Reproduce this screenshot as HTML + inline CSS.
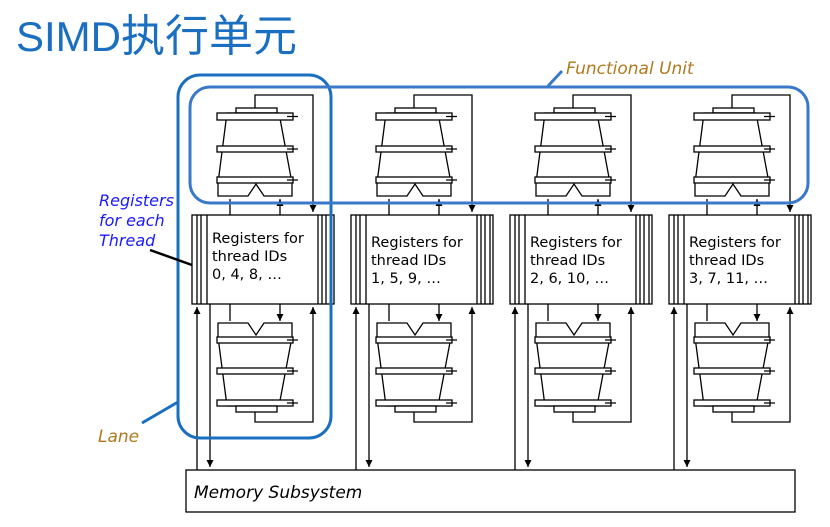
<!DOCTYPE html>
<html><head><meta charset="utf-8"><style>
html,body{margin:0;padding:0;background:#fff;width:830px;height:527px;overflow:hidden}
svg{display:block}
text{font-family:"DejaVu Sans","Liberation Sans",sans-serif}
</style></head><body>
<svg width="830" height="527" viewBox="0 0 830 527" xmlns="http://www.w3.org/2000/svg">
<defs>
<marker id="a" markerWidth="8" markerHeight="8" refX="7" refY="4" orient="auto" markerUnits="userSpaceOnUse"><path d="M0,0.5 L7,4 L0,7.5z" fill="#000"/></marker>
<g id="lane" stroke="#000" stroke-width="1.3" fill="#fff">
  <path d="M255,108 V95 H313 V212" fill="none" marker-end="url(#a)"/>
  <rect x="236" y="108" width="41" height="5"/>
  <path d="M227,113 L279,113 L292,183 L292,196 L264,196 L256,184 L248,196 L218,196 L218,183 Z"/>
  <rect x="217" y="113" width="76" height="7"/>
  <rect x="217" y="146" width="76" height="6"/>
  <rect x="217" y="177" width="76" height="6"/>
  <path d="M287,116.5 H298 M287,149 H298 M287,180 H298" fill="none"/>
  <path d="M230,215 V199 M280,215 V199" fill="none" marker-end="url(#a)"/>
  <rect x="192" y="215" width="142" height="89"/>
  <path d="M197,215V304 M201,215V304 M207,215V304 M318,215V304 M322,215V304 M326,215V304 M331,215V304" fill="none"/>
  <path d="M230,304 V321 M280,304 V321" fill="none" marker-end="url(#a)"/>
  <path d="M218,323 L248,323 L256,335 L264,323 L292,323 L292,337 L279,406 L227,406 L218,337 Z"/>
  <rect x="217" y="337" width="76" height="6"/>
  <rect x="217" y="368" width="76" height="6"/>
  <rect x="217" y="400" width="76" height="6"/>
  <rect x="236" y="406" width="41" height="6"/>
  <path d="M287,340 H298 M287,371 H298 M287,403 H298" fill="none"/>
  <path d="M255,412 V422 H313 V307" fill="none" marker-end="url(#a)"/>
  <path d="M197,470 V307" fill="none" marker-end="url(#a)"/>
  <path d="M210,304 V467" fill="none" marker-end="url(#a)"/>
</g>
</defs>
<text x="16" y="51" font-size="42" fill="#1a6fc0" style='font-family:"Liberation Sans","Noto Sans CJK SC",sans-serif'>SIMD<tspan font-size="44">执行单元</tspan></text>
<use href="#lane"/>
<use href="#lane" transform="translate(159,0)"/>
<use href="#lane" transform="translate(318,0)"/>
<use href="#lane" transform="translate(477,0)"/>
<g font-size="14.5" fill="#000">
<text x="212" y="243">Registers for</text><text x="212" y="261">thread IDs</text><text x="212" y="279">0, 4, 8, …</text>
<text x="371" y="247">Registers for</text><text x="371" y="265">thread IDs</text><text x="371" y="283">1, 5, 9, …</text>
<text x="530" y="247">Registers for</text><text x="530" y="265">thread IDs</text><text x="530" y="283">2, 6, 10, …</text>
<text x="689" y="247">Registers for</text><text x="689" y="265">thread IDs</text><text x="689" y="283">3, 7, 11, …</text>
</g>
<rect x="186" y="470" width="609" height="42" fill="#fff" stroke="#000" stroke-width="1.3"/>
<text x="194" y="498" font-size="17" font-style="italic">Memory Subsystem</text>
<rect x="178" y="75" width="153" height="363" rx="22" fill="none" stroke="#1a6fc0" stroke-width="3"/>
<rect x="190" y="87" width="618" height="116" rx="20" fill="none" stroke="#3a78c9" stroke-width="3"/>
<path d="M548,86 L562,71" stroke="#3a78c9" stroke-width="3"/>
<text x="566" y="74" font-size="17" font-style="italic" fill="#b07a20">Functional Unit</text>
<path d="M142,423 L178,402" stroke="#1a6fc0" stroke-width="3"/>
<text x="98" y="442" font-size="17" font-style="italic" fill="#b07a20">Lane</text>
<g font-size="16" font-style="italic" fill="#1a1aff">
<text x="99" y="206">Registers</text><text x="99" y="226">for each</text><text x="99" y="246">Thread</text>
</g>
<path d="M150,250 L192,265" stroke="#000" stroke-width="2.5"/>
</svg>
</body></html>
